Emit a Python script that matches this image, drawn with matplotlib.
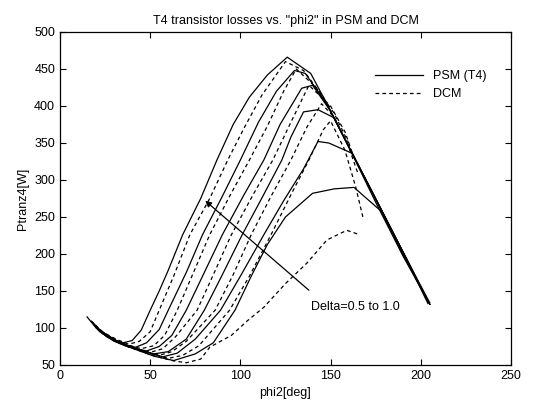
import matplotlib
matplotlib.use("Agg")
import matplotlib.pyplot as plt

plt.rcParams['font.family'] = ['Liberation Sans', 'DejaVu Sans']
plt.rcParams['font.size'] = 9

# PSM (T4) curves, Delta = 1.0 ... 0.5  (phi2 [deg], Ptranz4 [W])
psm_x = [
    [15, 20, 25, 30, 35, 40, 45, 50, 55, 60, 68, 78, 87, 96, 105, 115, 126, 139, 146, 160, 175, 190, 205],
    [18, 25, 30, 36, 42, 48, 55, 60, 70, 79, 90, 100, 110, 120, 130, 136, 148, 160, 175, 190, 204],
    [19, 26, 33, 40, 48, 55, 62, 70, 80, 90, 102, 113, 122, 134, 140, 150, 165, 180, 195, 205],
    [20, 28, 36, 44, 52, 60, 70, 80, 90, 101, 112, 123, 128, 135, 143, 152, 165, 180, 195, 204],
    [21, 30, 40, 50, 57, 65, 75, 89, 100, 113, 124, 135, 143, 149, 162, 175, 190, 205],
    [22, 32, 42, 52, 63, 75, 85, 97, 106, 115, 125, 140, 152, 163, 170, 178, 190, 205],
]
psm_y = [
    [115, 100, 90, 84, 80, 83, 97, 124, 150, 178, 226, 275, 327, 375, 412, 442, 466, 444, 412, 345, 270, 198, 132],
    [108, 90, 82, 77, 74, 80, 98, 124, 175, 226, 278, 327, 378, 420, 448, 444, 402, 345, 274, 203, 133],
    [104, 88, 79, 73, 69, 75, 90, 124, 175, 226, 280, 327, 375, 424, 428, 393, 322, 251, 180, 134],
    [101, 86, 76, 70, 65, 68, 85, 124, 172, 226, 276, 327, 358, 392, 395, 384, 322, 251, 180, 135],
    [99, 84, 74, 66, 61, 66, 85, 124, 170, 226, 272, 315, 352, 350, 336, 275, 203, 132],
    [97, 82, 71, 62, 56, 65, 80, 124, 170, 213, 250, 282, 288, 290, 275, 258, 200, 132],
]

# DCM curves, Delta = 1.0 ... 0.5
dcm_x = [
    [17, 24, 31, 38, 44, 50, 55, 63, 72, 83, 93, 102, 112, 125, 135, 146, 155],
    [19, 27, 35, 45, 52, 58, 65, 74, 83, 94, 105, 115, 124, 131, 142, 152, 160],
    [20, 29, 39, 50, 57, 64, 76, 85, 95, 107, 118, 128, 138, 150, 158, 163],
    [21, 31, 43, 55, 62, 70, 86, 96, 106, 117, 128, 137, 145, 152, 160, 165],
    [22, 33, 46, 60, 68, 77, 94, 105, 117, 128, 138, 146, 150, 158, 164, 168],
    [23, 36, 50, 62, 70, 78, 83, 95, 104, 113, 125, 137, 148, 159, 165],
]
dcm_y = [
    [110, 94, 85, 78, 82, 95, 124, 170, 226, 275, 327, 370, 415, 460, 448, 412, 370],
    [104, 88, 79, 72, 76, 90, 124, 175, 226, 278, 327, 373, 420, 450, 425, 390, 350],
    [100, 85, 74, 67, 72, 88, 124, 172, 226, 280, 327, 378, 428, 400, 365, 330],
    [97, 82, 71, 63, 68, 82, 124, 172, 226, 278, 327, 372, 403, 385, 345, 310],
    [95, 80, 68, 59, 63, 76, 124, 170, 226, 280, 327, 368, 380, 340, 290, 249],
    [93, 76, 64, 56, 53, 58, 74, 90, 110, 128, 160, 188, 219, 232, 227],
]

fig = plt.figure(figsize=(5.33, 4.05), dpi=100)
ax = fig.add_axes([0.1126, 0.0988, 0.846, 0.8222])

for i in range(len(psm_x)):
    ax.plot(psm_x[i], psm_y[i], color='black', lw=0.9,
            label='PSM (T4)' if i == 0 else None)
for i in range(len(dcm_x)):
    ax.plot(dcm_x[i], dcm_y[i], color='black', lw=0.9, linestyle=(0, (3, 2.5)),
            label='DCM' if i == 0 else None)

ax.annotate('', xy=(80.5, 272), xytext=(138, 151),
            arrowprops=dict(arrowstyle='-|>', color='black', lw=0.9,
                            mutation_scale=9, shrinkA=0, shrinkB=0))
ax.text(139, 128, 'Delta=0.5 to 1.0', ha='left', va='center', fontsize=9)

ax.set_xlim(0, 250)
ax.set_ylim(50, 500)
ax.set_xticks([0, 50, 100, 150, 200, 250])
ax.set_yticks([50, 100, 150, 200, 250, 300, 350, 400, 450, 500])
ax.tick_params(direction='in', top=True, right=True, length=4, width=0.8)
for s in ax.spines.values():
    s.set_linewidth(0.9)

ax.set_title('T4 transistor losses vs. "phi2" in PSM and DCM', fontsize=9, pad=6)
ax.set_xlabel('phi2[deg]', fontsize=9)
ax.set_ylabel('Ptranz4[W]', fontsize=9)

ax.legend(loc='upper right', bbox_to_anchor=(0.97, 0.92), frameon=False,
          handlelength=3.8, fontsize=9, labelspacing=0.5)

fig.savefig('out.png', dpi=100)
